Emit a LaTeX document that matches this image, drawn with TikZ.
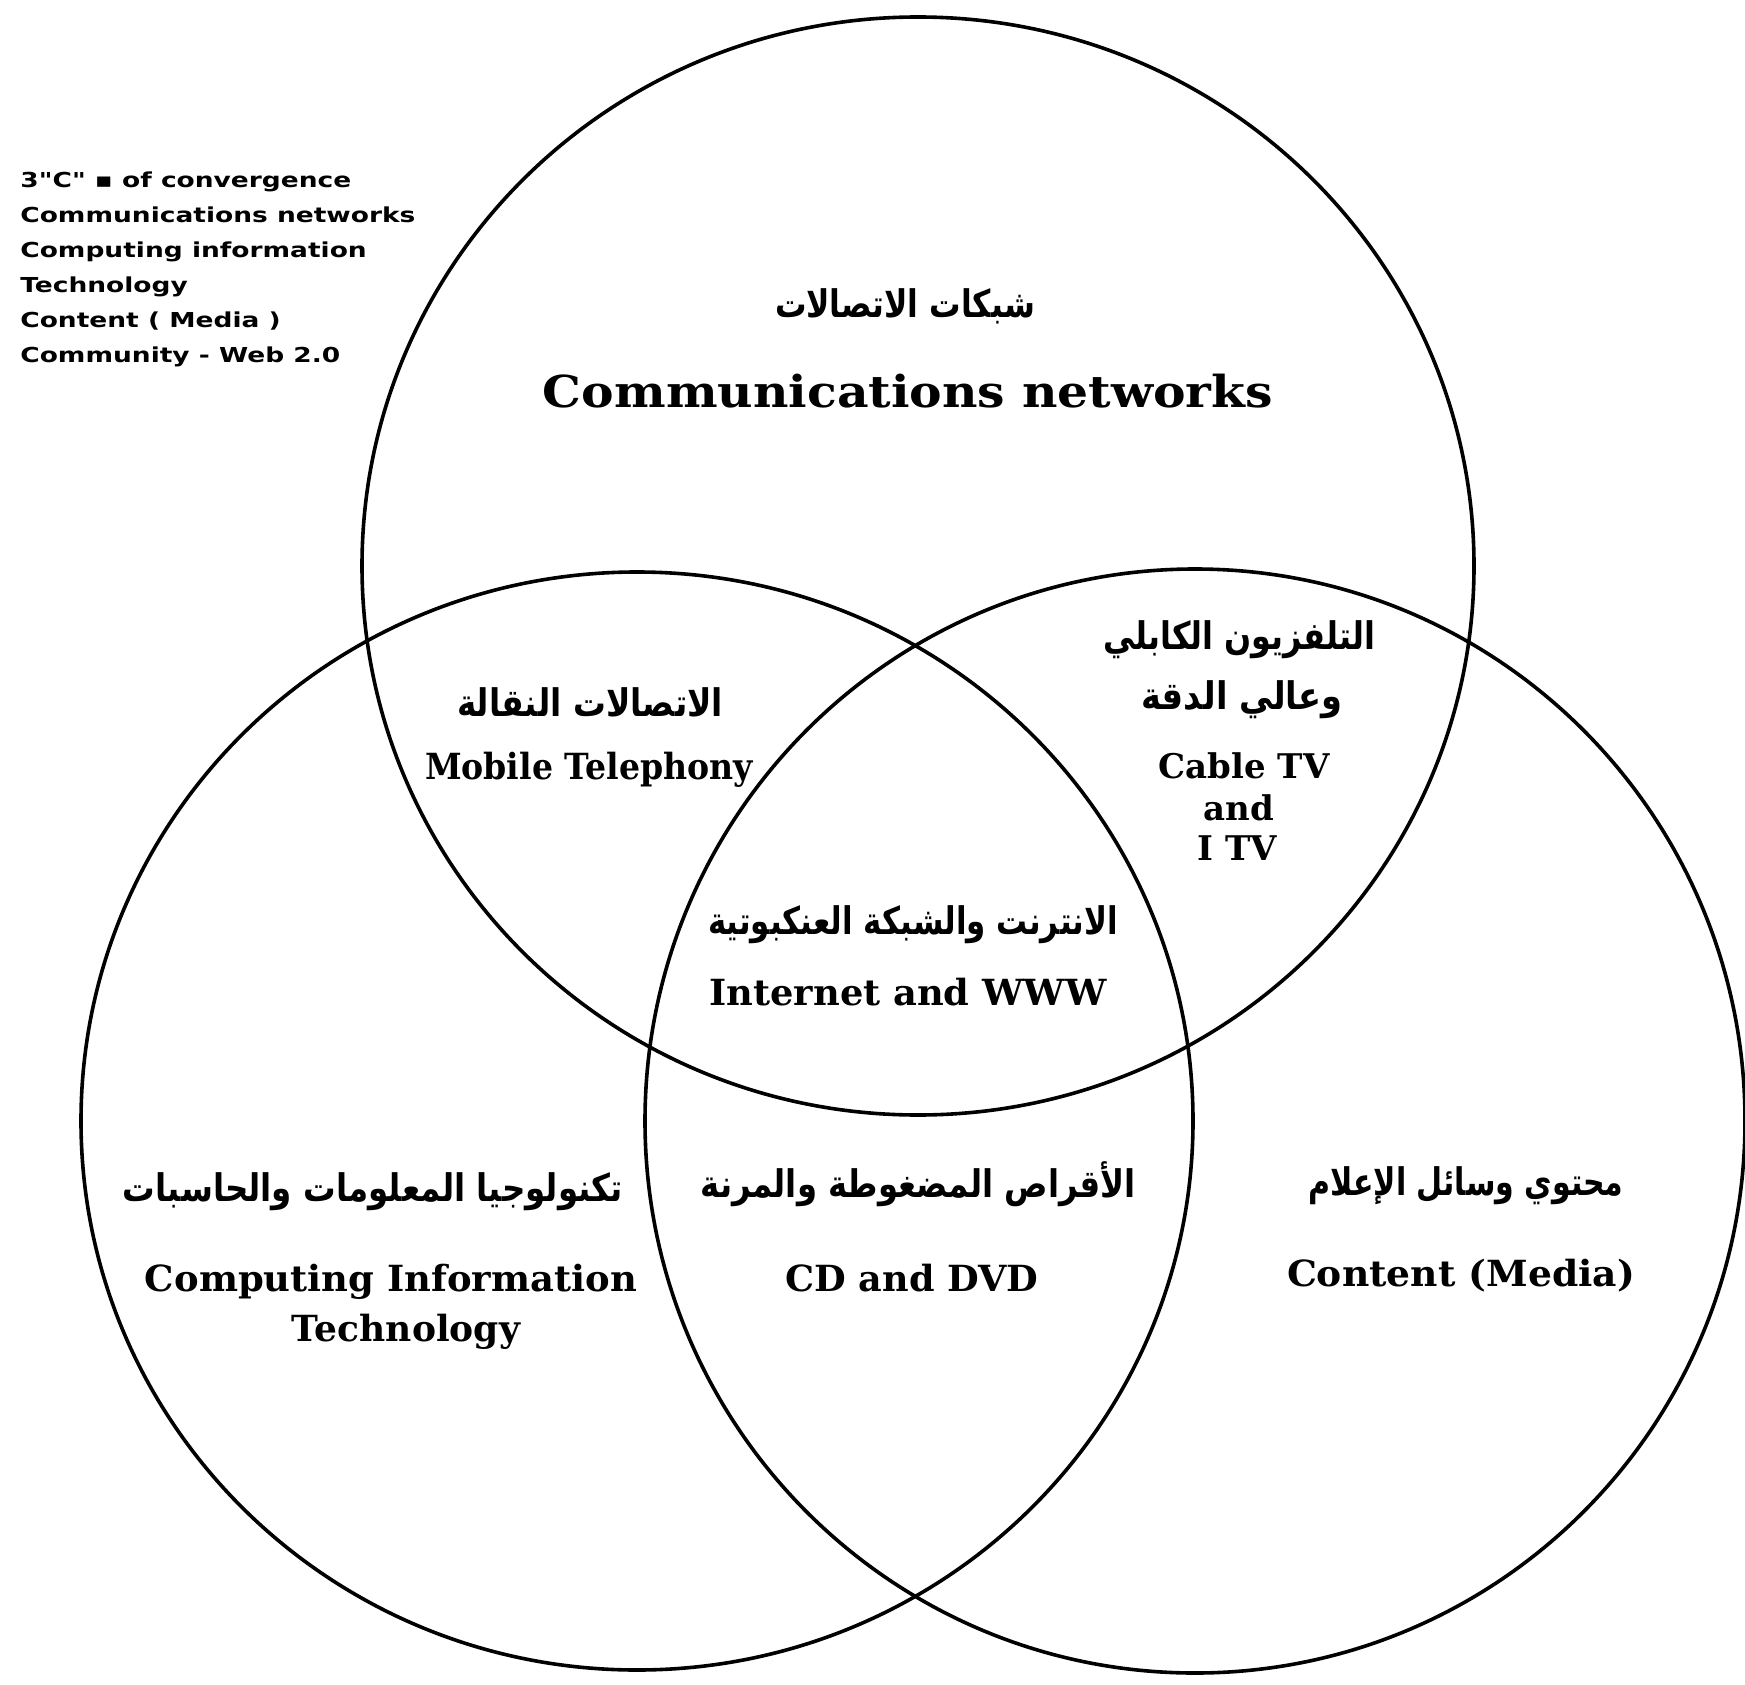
\documentclass[tikz,border=0pt]{standalone}
\usepackage{fontspec}
\usepackage{graphicx}
\setmainfont{DejaVu Serif}
\newfontfamily\arabicfont[Script=Arabic]{DejaVu Sans}
\newfontfamily\legendfont{DejaVu Sans}
\TeXXeTstate=1
\newcommand\fitw[2]{\resizebox{#1}{\height}{#2}}
\newcommand\artxt[1]{{\arabicfont\bfseries\beginR #1\endR}}
\tikzset{
  ring/.style={draw=black, line width=1.8pt},
  lab/.style={inner sep=0pt, anchor=center},
  en/.style={lab, font=\bfseries\fontsize{18}{22}\selectfont},
  ar/.style={lab, font=\fontsize{19}{23}\selectfont},
  legend/.style={inner sep=0pt, anchor=north west, align=left,
    font=\legendfont\bfseries\fontsize{10.3}{17.5}\selectfont}
}
\begin{document}
\begin{tikzpicture}[x=0.5pt,y=-0.5pt]
\useasboundingbox (0,0) rectangle (1745,1685);
\fill[white] (0,0) rectangle (1745,1685);
% circles
\draw[ring] (918,566) ellipse[x radius=556, y radius=549];
\draw[ring] (637,1121) ellipse[x radius=556, y radius=549];
\draw[ring] (1195,1121) ellipse[x radius=550, y radius=552];
% legend
\node[legend] (legend) at (20,163) {\fitw{197.5pt}{\begin{tabular}{@{}l@{}}
3"C" ▪ of convergence\\
Communications networks\\
Computing information\\
Technology\\
Content ( Media )\\
Community - Web 2.0
\end{tabular}}};
% top circle
\node[ar] (comAr) at (905,306) {\fitw{130pt}{\artxt{شبكات الاتصالات}}};
\node[en, font=\bfseries\fontsize{22}{26}\selectfont] (comEn) at (908,391) {\fitw{365pt}{Communications networks}};
% mobile
\node[ar] (mobAr) at (590,702) {\fitw{133pt}{\artxt{الاتصالات النقالة}}};
\node[en] (mobEn) at (589,770) {\fitw{164pt}{Mobile Telephony}};
% cable
\node[ar] (cabAr1) at (1239,640) {\fitw{136pt}{\artxt{التلفزيون الكابلي}}};
\node[ar] (cabAr2) at (1242,700) {\fitw{100.5pt}{\artxt{وعالي الدقة}}};
\node[en, font=\bfseries\fontsize{17}{20}\selectfont] (cabEn1) at (1244,766) {Cable TV};
\node[en, font=\bfseries\fontsize{17}{20}\selectfont] (cabEn2) at (1239,808) {and};
\node[en, font=\bfseries\fontsize{17}{20}\selectfont] (cabEn3) at (1237,848) {I TV};
% internet
\node[ar] (intAr) at (913,925) {\fitw{205pt}{\artxt{الانترنت والشبكة العنكبوتية}}};
\node[en] (intEn) at (908,992) {\fitw{198.5pt}{Internet and WWW}};
% computing
\node[ar] (cmpAr) at (373,1192) {\fitw{250pt}{\artxt{تكنولوجيا المعلومات والحاسبات}}};
\node[en] (cmpEn1) at (391,1282) {\fitw{246pt}{Computing Information}};
\node[en] (cmpEn2) at (406,1332) {\fitw{114pt}{Technology}};
% cd
\node[ar] (cdAr) at (918,1184) {\fitw{217.5pt}{\artxt{الأقراص المضغوطة والمرنة}}};
\node[en] (cdEn) at (912,1278) {\fitw{126.5pt}{CD and DVD}};
% content
\node[ar] (conAr) at (1466,1186) {\fitw{157.5pt}{\artxt{محتوي وسائل الإعلام}}};
\node[en] (conEn) at (1461,1276) {\fitw{174pt}{Content (Media)}};
\end{tikzpicture}
\end{document}
